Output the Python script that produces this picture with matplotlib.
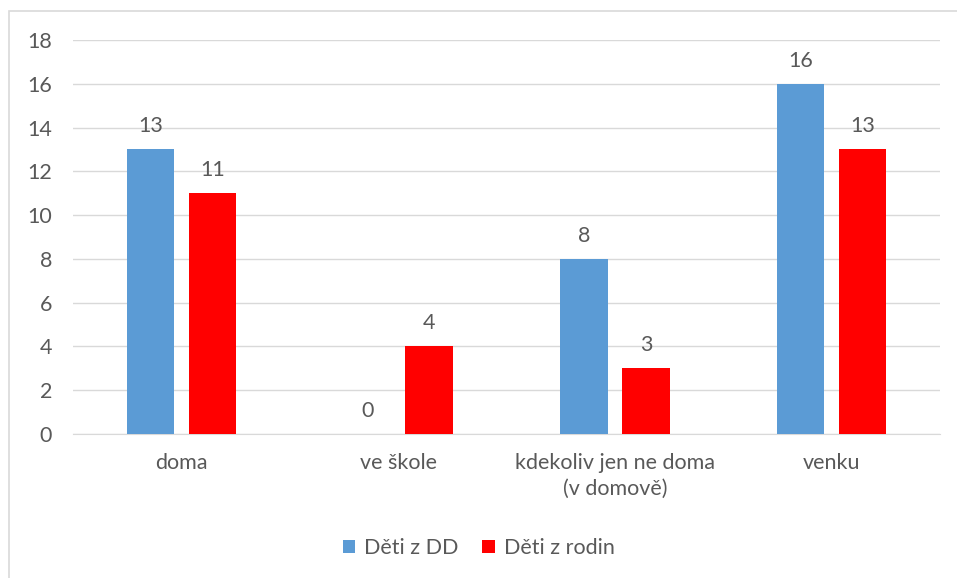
import numpy as np
import matplotlib.pyplot as plt
from matplotlib.patches import Rectangle

categories = ['doma', 've škole', 'kdekoliv jen ne doma\n(v domově)', 'venku']
series_names = ['Děti z DD', 'Děti z rodin']
deti_dd = [13, 0, 8, 16]
deti_rodin = [11, 4, 3, 13]
yticks = [0, 2, 4, 6, 8, 10, 12, 14, 16, 18]

blue = '#5B9BD5'
red = '#FF0000'
txt = '#595959'
fs = 15.5

plt.rcParams['font.family'] = ['Lato', 'DejaVu Sans']

fig = plt.figure(figsize=(9.57, 5.78), dpi=100)
W, H = 957, 578
ax = fig.add_axes([73 / W, 1 - 434 / H, (940 - 73) / W, (434 - 40) / H])

# chart border (only left/top visible in the crop)
fig.patches.append(Rectangle((9 / W, -0.1), 1.2, 1 - 11 / H + 0.1, transform=fig.transFigure,
                             fill=False, edgecolor='#D9D9D9', linewidth=1.2))

x = np.arange(len(categories))
w = 0.22
off = 0.143
b1 = ax.bar(x - off, deti_dd, w, color=blue, label=series_names[0], zorder=3)
b2 = ax.bar(x + off, deti_rodin, w, color=red, label=series_names[1], zorder=3)

for bars, vals in ((b1, deti_dd), (b2, deti_rodin)):
    for r, v in zip(bars, vals):
        ax.text(r.get_x() + r.get_width() / 2, v + 0.6, str(v), ha='center', va='bottom',
                fontsize=fs, color=txt)

ax.set_xlim(-0.5, len(categories) - 0.5)
ax.set_ylim(0, 18)
ax.set_yticks(yticks)
ax.set_xticks(x)
ax.set_xticklabels(categories, fontsize=fs, color=txt, linespacing=1.35)
ax.tick_params(axis='y', labelsize=fs, labelcolor=txt, length=0, pad=15)
ax.tick_params(axis='x', length=0, pad=14)
ax.grid(axis='y', color='#D9D9D9', linewidth=1, zorder=0)
for s in ['top', 'right', 'left']:
    ax.spines[s].set_visible(False)
ax.spines['bottom'].set_color('#D9D9D9')

fig.legend(handles=[b1, b2], loc='center', bbox_to_anchor=(0.5, 1 - 548 / H), ncol=2,
           frameon=False, fontsize=fs, labelcolor=txt, handlelength=0.6, handleheight=0.6,
           handletextpad=0.4, columnspacing=1.1)

fig.savefig('out.png', dpi=100)
